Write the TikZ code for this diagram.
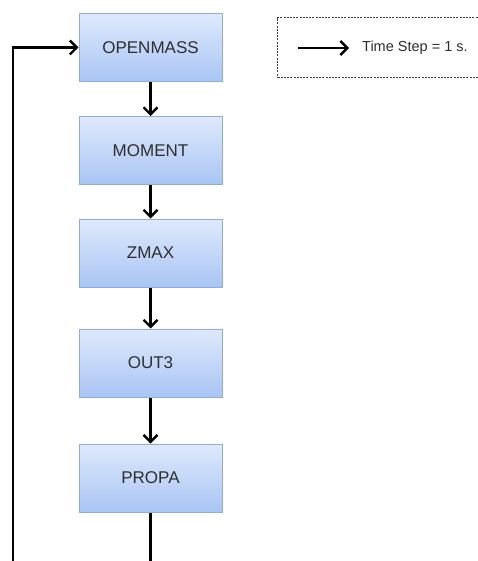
\documentclass[tikz,border=0pt]{standalone}
\usepackage{fontspec}
\setmainfont{Liberation Sans}
\usetikzlibrary{arrows.meta}
\definecolor{boxtop}{HTML}{DEE9FC}
\definecolor{boxbot}{HTML}{A9C5F4}
\definecolor{boxline}{HTML}{8DADE0}
\definecolor{txt}{HTML}{2E2E2E}
\tikzset{
  procbox/.style={rectangle, draw=boxline, line width=1pt, top color=boxtop, bottom color=boxbot,
    minimum width=143pt, minimum height=68pt, inner sep=0pt, text=txt, font=\fontsize{17}{19}\selectfont},
  flow/.style={line width=2.8pt, black, -{Straight Barb[length=7pt,width=14pt,line width=2.4pt]}},
  plain/.style={line width=2.8pt, black},
  legendbox/.style={draw=black!75, line width=1.3pt, dash pattern=on 2pt off 1.2pt}
}
\begin{document}
\begin{tikzpicture}[x=1pt,y=-1pt]
\useasboundingbox (0,0) rectangle (478,561);
\clip (0,0) rectangle (478,561);
\node[procbox] (open) at (150.5,47.5) {OPENMASS};
\node[procbox] (mom) at (150.5,150.5) {MOMENT};
\node[procbox] (zmax) at (150.5,253) {ZMAX};
\node[procbox] (out) at (150.5,363) {OUT3};
\node[procbox] (propa) at (150.5,478) {PROPA};
\coordinate (bl) at (13,565);
\coordinate (bm) at (150.5,565);
\draw[flow] (open) -- (mom);
\draw[flow] (mom) -- (zmax);
\draw[flow] (zmax) -- (out);
\draw[flow] (out) -- (propa);
\draw[plain] (propa.south) -- (bm);
\draw[flow] (bl) |- (open.west);
% legend
\node[legendbox, minimum width=230pt, minimum height=60pt, anchor=north west] (leg) at (277,17) {};
\coordinate (la) at (298,48);
\coordinate (lb) at (349,48);
\draw[flow] (la) -- (lb);
\node[anchor=west, text=txt, font=\fontsize{14.5}{16}\selectfont, inner sep=0pt] (lt) at (362,48) {Time Step = 1 s.};
\end{tikzpicture}
\end{document}
